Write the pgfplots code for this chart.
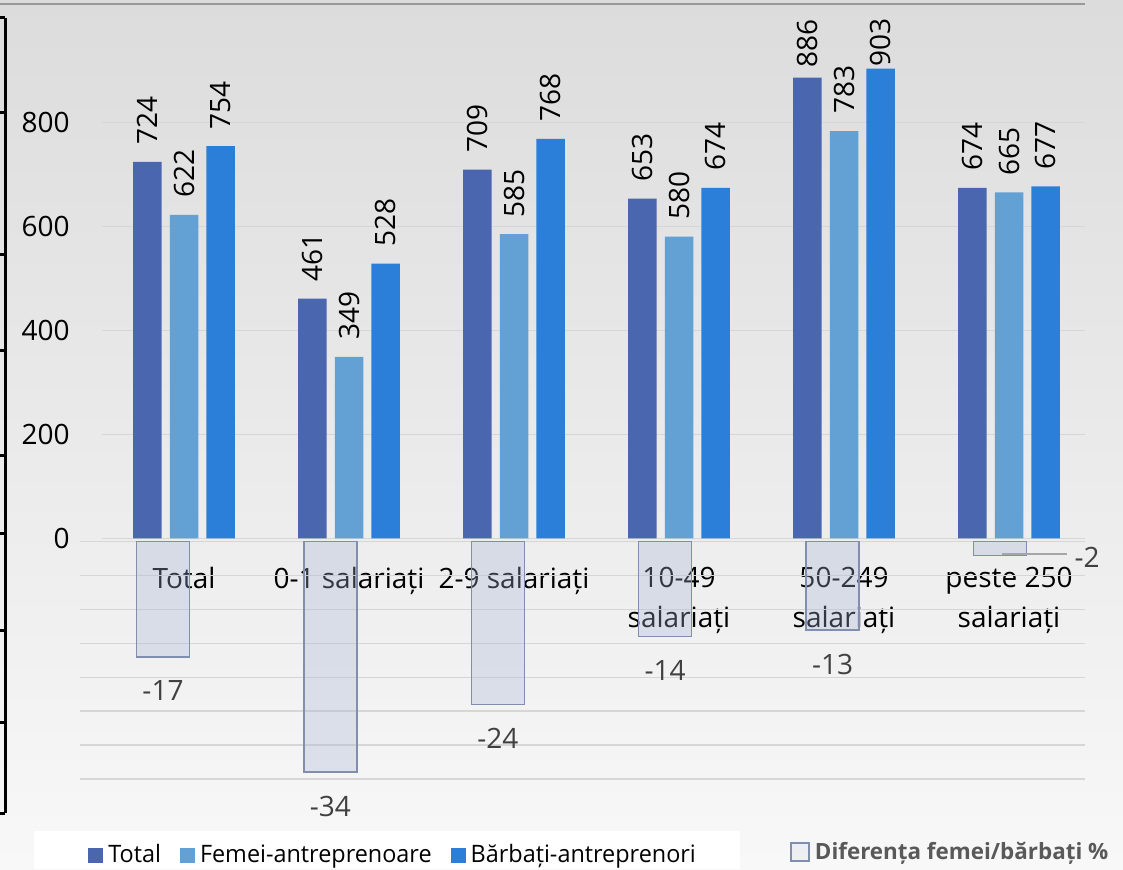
\documentclass[border=0pt]{standalone}
\usepackage{fontspec}
\setmainfont{Open Sans}
\newfontfamily\legfont[FakeStretch=0.975]{Open Sans}
\usepackage{graphicx}
\usepackage{pgfplots}
\usepackage{pgfplotstable}
\pgfplotsset{compat=1.18}

\definecolor{cTot}{HTML}{4966AE}
\definecolor{cFem}{HTML}{63A0D3}
\definecolor{cBar}{HTML}{2C7FD9}
\definecolor{cDifF}{HTML}{A6B3D3}
\definecolor{cDifL}{HTML}{D6DBE5}
\definecolor{cDifD}{HTML}{7F8FAD}
\definecolor{cGrid}{HTML}{D6D6D6}
\definecolor{cLbl}{HTML}{404040}
\definecolor{cLeg}{HTML}{595959}
\definecolor{bgTop}{HTML}{DCDCDC}
\definecolor{bgBot}{HTML}{F8F8F8}

\pgfplotstableread{
x y gap
0 724 8.5
1 461 8.5
2 709 8.5
3 653 8.5
4 886 5
5 674 8.5
}\tTotal
\pgfplotstableread{
x y gap
0 622 8.5
1 349 8.5
2 585 8.5
3 580 8.5
4 783 9
5 665 8.5
}\tFem
\pgfplotstableread{
x y gap
0 754 8.5
1 528 8.5
2 768 8.5
3 674 8.5
4 903 1
5 677 8.5
}\tBar
\pgfplotstableread{
x y dx dy
0 -17 0 0
1 -34 0 0
2 -24 0 0
3 -14 0 0
4 -13 0 0
5 -2 43.5 16.15
}\tDif

\pgfplotsset{
  vlabels/.style={
    visualization depends on={\thisrow{gap} \as \gap},
    nodes near coords={\rotatebox{90}{\pgfmathprintnumber{\pgfplotspointmeta}}},
    nodes near coords style={anchor=south, inner sep=0pt, outer ysep=\gap pt, outer xsep=0pt, xshift=#1, font=\fontsize{14}{16}\selectfont, text=black},
  }
}

\begin{document}
\begin{tikzpicture}
\useasboundingbox (0,0) rectangle (561.5pt,434.5pt);
\shade[top color=bgTop, bottom color=bgBot] (0,0) rectangle (561.5pt,434.5pt);
\fill[white] (17pt,0pt) rectangle (370pt,19pt);
\draw[line width=1pt, color=black!40] (0pt,432.5pt) -- (542.5pt,432.5pt);
% left frame
\draw[line width=1.5pt, black] (2.5pt,425.5pt) -- (2.5pt,28pt);
\foreach \yy in {425.5,378,307,259.5,207,168,119.5,73.5,28}
  \draw[line width=1.5pt, black] (0pt,\yy pt) -- (2.5pt,\yy pt);

% primary axis
\begin{axis}[
  at={(51pt,35.35pt)}, anchor=south west,
  x=82.5pt, y=0.26pt,
  xmin=-0.497, xmax=5.4606, ymin=-500, ymax=1027,
  axis line style={draw=none}, tick style={draw=none},
  clip=false,
  /pgf/number format/assume math mode=true,
  ytick={0,200,400,600,800},
  ymajorgrids, grid style={cGrid, line width=0.75pt},
  yticklabel style={font=\fontsize{14}{16}\selectfont, anchor=east, inner sep=0pt, xshift=-16pt},
  xtick={0,1,2,3,4,5},
  xticklabels={Total, 0-1 salariați, 2-9 salariați, 10-49\\salariați, 50-249\\salariați, peste 250\\salariați},
  xticklabel style={font=\fontsize{14}{20}\selectfont, align=center, anchor=north, inner sep=0pt, yshift=115.8pt},
  legend style={at={(-0.01424,-0.0739)}, anchor=west, draw=none, fill=none, inner sep=0pt,
    font=\legfont\fontsize{12}{14}\selectfont,
    nodes={inner sep=0pt, text height=9pt, text depth=3pt},
    column sep=2.5pt, /tikz/every even column/.append style={column sep=9.5pt}},
  legend columns=3,
]
\addplot[ybar, bar width=14.25pt, bar shift=-18.35pt, fill=cTot, draw=none, vlabels=-18.35pt,
  legend image code/.code={\fill[cTot] (0pt,-3pt) rectangle (7.5pt,4.5pt);}
  ] table[x=x,y=y] {\tTotal};
\addlegendentry{Total}
\addplot[ybar, bar width=14.25pt, bar shift=0pt, fill=cFem, draw=none, vlabels=0pt,
  legend image code/.code={\fill[cFem] (0pt,-3pt) rectangle (7.5pt,4.5pt);}
  ] table[x=x,y=y] {\tFem};
\addlegendentry{Femei-antreprenoare}
\addplot[ybar, bar width=14.25pt, bar shift=18.35pt, fill=cBar, draw=none, vlabels=18.35pt,
  legend image code/.code={\fill[cBar] (0pt,-3pt) rectangle (7.5pt,4.5pt);}
  ] table[x=x,y=y] {\tBar};
\addlegendentry{Bărbați-antreprenori}
\end{axis}

% secondary axis
\begin{axis}[
  at={(40pt,28.05pt)}, anchor=south west,
  x=83.7pt, y=3.39pt,
  xmin=-0.4958, xmax=5.5078, ymin=-40, ymax=0,
  axis line style={draw=none}, tick style={draw=none},
  clip=false,
  /pgf/number format/assume math mode=true,
  xtick=\empty,
  ytick={-35,-30,-25,-20,-15,-10,-5,0}, yticklabel=\empty,
  ymajorgrids, grid style={cGrid, line width=0.75pt},
  legend style={at={(0.7065,-0.1479)}, anchor=west, draw=none, fill=none, inner sep=0pt,
    font=\bfseries\fontsize{11.2}{13}\selectfont, text=cLeg,
    nodes={inner sep=0pt, text height=9pt, text depth=3pt},
    column sep=2.5pt},
]
\addplot[ybar, bar width=26.5pt, bar shift=0pt, fill=cDifF, fill opacity=0.31, draw=cDifD, line width=0.75pt,
  visualization depends on={\thisrow{dx} \as \dx},
  visualization depends on={\thisrow{dy} \as \dy},
  nodes near coords,
  nodes near coords style={anchor=north, inner sep=0pt, outer ysep=12pt, outer xsep=0pt, xshift=\dx pt, yshift=\dy pt, font=\fontsize{14}{16}\selectfont, text=cLbl, text opacity=1, fill opacity=1},
  legend image code/.code={\draw[fill=cDifL, draw=cDifD, line width=0.75pt] (0pt,-4pt) rectangle (9pt,5pt);}
  ] table[x=x,y=y] {\tDif};
\addlegendentry{Diferența femei/bărbați \%}
\draw[color=black!35, line width=0.75pt] (axis cs:5.012,-1.79) -- (axis cs:5.40,-1.79);
\end{axis}
\end{tikzpicture}
\end{document}
